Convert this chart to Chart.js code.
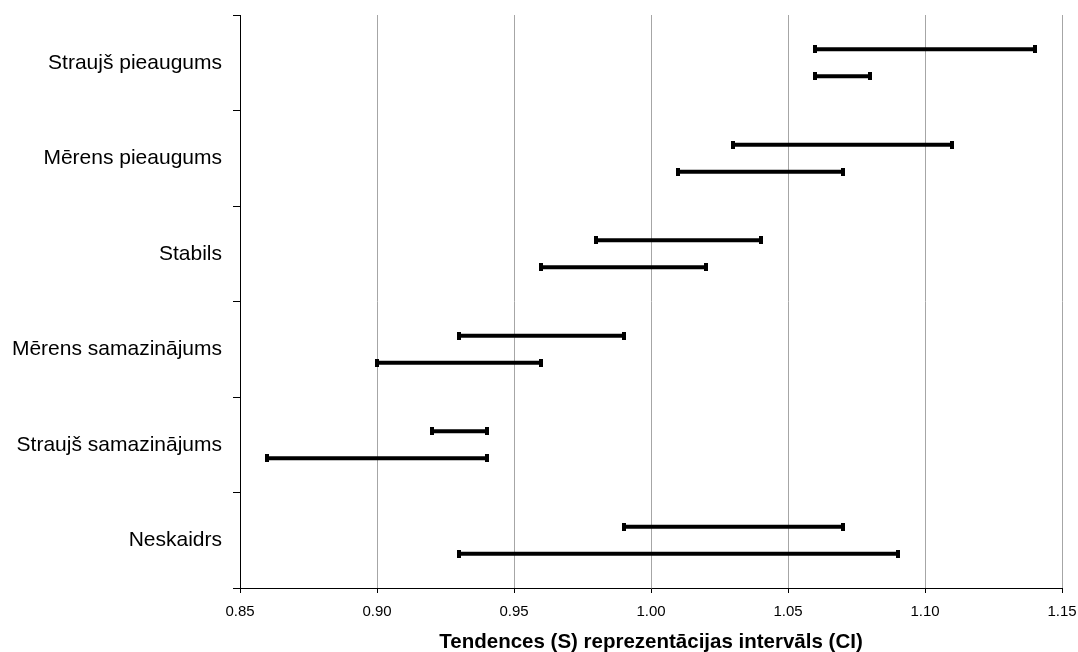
<!DOCTYPE html>
<html>
<head>
<meta charset="utf-8">
<script src="https://cdn.jsdelivr.net/npm/chart.js@4"></script>
<style>
  html, body { margin: 0; padding: 0; background: #fff; }
  #wrap { width: 1078px; height: 652px; }
</style>
</head>
<body>
<div id="wrap"><canvas id="ciChart" width="1078" height="652"></canvas></div>
<script>
// categories (top to bottom)
const categories = ['Straujš pieaugums', 'Mērens pieaugums', 'Stabils',
    'Mērens samazinājums', 'Straujš samazinājums', 'Neskaidrs'];

// upper interval in each category: [low, high]
const upperLow  = [1.06, 1.03, 0.98, 0.93, 0.92, 0.99];
const upperHigh = [1.14, 1.11, 1.04, 0.99, 0.94, 1.07];
// lower interval in each category
const lowerLow  = [1.06, 1.01, 0.96, 0.90, 0.86, 0.93];
const lowerHigh = [1.08, 1.07, 1.02, 0.96, 0.94, 1.09];

const xTicks = [0.85, 0.90, 0.95, 1.00, 1.05, 1.10, 1.15];

const FONT = 'Liberation Sans, Arial, sans-serif';

// little square caps at both ends of each interval
const endCaps = {
    id: 'endCaps',
    afterDatasetsDraw(chart) {
        const ctx = chart.ctx;
        ctx.save();
        ctx.fillStyle = '#000';
        chart.data.datasets.forEach((ds, i) => {
            const meta = chart.getDatasetMeta(i);
            meta.data.forEach(bar => {
                [bar.base, bar.x].forEach(px => {
                    ctx.fillRect(Math.round(px) - 2, Math.round(bar.y) - 4, 4, 8);
                });
            });
        });
        ctx.restore();
    }
};

new Chart(document.getElementById('ciChart').getContext('2d'), {
    type: 'bar',
    data: {
        labels: categories,
        datasets: [
            {
                label: 'upper',
                data: upperLow.map((v, i) => [v, upperHigh[i]]),
                backgroundColor: '#000'
            },
            {
                label: 'lower',
                data: lowerLow.map((v, i) => [v, lowerHigh[i]]),
                backgroundColor: '#000'
            }
        ]
    },
    options: {
        indexAxis: 'y',
        responsive: false,
        animation: false,
        categoryPercentage: 0.565,
        barPercentage: 0.15,
        borderSkipped: false,
        layout: { padding: { top: 15, right: 16, left: 0, bottom: 0 } },
        plugins: { legend: { display: false }, tooltip: { enabled: false } },
        scales: {
            x: {
                type: 'linear',
                min: 0.85,
                max: 1.15,
                afterBuildTicks: axis => { axis.ticks = xTicks.map(v => ({ value: v })); },
                afterFit: axis => {
                    axis.height = 64;
                    axis.paddingLeft = 0;
                    axis.paddingRight = 0;
                },
                grid: { color: '#a6a6a6', tickColor: '#000', tickLength: 5, lineWidth: 1 },
                border: { color: '#000', width: 1 },
                ticks: {
                    color: '#000', padding: 10, maxRotation: 0,
                    font: { family: FONT, size: 15 },
                    callback: v => Number(v).toFixed(2)
                },
                title: {
                    display: true,
                    text: 'Tendences (S) reprezentācijas intervāls (CI)',
                    color: '#000',
                    font: { family: FONT, size: 20.5, weight: 'bold', lineHeight: 0.8 },
                    padding: { top: 0, bottom: 1 }
                }
            },
            y: {
                type: 'category',
                offset: true,
                afterFit: axis => {
                    axis.width = 240;
                    axis.paddingTop = 0;
                    axis.paddingBottom = 0;
                },
                grid: { offset: true, drawOnChartArea: false, tickColor: '#000', tickLength: 7 },
                border: { color: '#000', width: 1 },
                ticks: { color: '#000', padding: 11, font: { family: FONT, size: 21 } }
            }
        }
    },
    plugins: [endCaps]
});
</script>
</body>
</html>
